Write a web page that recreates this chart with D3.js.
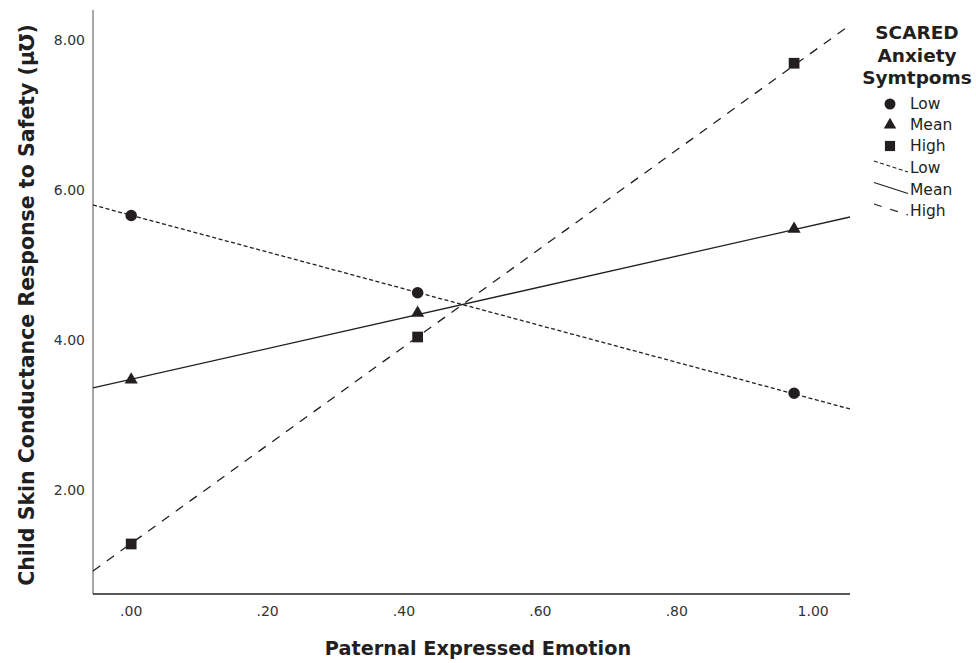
<!DOCTYPE html>
<html>
<head>
  <meta charset="utf-8">
  <title>Child Skin Conductance Response to Safety</title>
  <script src="https://cdn.jsdelivr.net/npm/d3@7"></script>
  <style>
    body { margin: 0; background: #fff; }
    .tick-label { font-family: "DejaVu Sans", sans-serif; font-size: 14px; fill: #333; }
    .axis-title { font-family: "DejaVu Sans", sans-serif; font-weight: bold; font-size: 19.3px; fill: #231f20; }
    .y-title { font-size: 20.5px; }
    .legend-title { font-family: "DejaVu Sans", sans-serif; font-weight: bold; font-size: 18.5px; fill: #231f20; }
    .legend-text { font-family: "DejaVu Sans", sans-serif; font-size: 15.5px; fill: #231f20; }
  </style>
</head>
<body>
<script>
  // point positions on the x axis
  var xPoints = [0.00, 0.42, 0.972];

  // marker values per group
  var lowVals  = [5.66, 4.63, 3.29];
  var meanVals = [3.47, 4.36, 5.48];
  var highVals = [1.28, 4.04, 7.69];

  // fit lines, read at both ends of the x axis
  var lineX    = [-0.056, 1.054];
  var lowLine  = [5.80, 3.08];
  var meanLine = [3.36, 5.64];
  var highLine = [0.92, 8.20];

  var xTicks = [0, 0.2, 0.4, 0.6, 0.8, 1.0];
  var yTicks = [2, 4, 6, 8];

  var groups = ["Low", "Mean", "High"];

  var width = 976, height = 663;
  var plot = {left: 93, right: 850, top: 10, bottom: 594};

  var svg = d3.select("body").append("svg")
      .attr("width", width)
      .attr("height", height);

  var x = d3.scaleLinear().domain([-0.056, 1.054]).range([plot.left, plot.right]);
  var y = d3.scaleLinear().domain([0.613, 8.4]).range([plot.bottom, plot.top]);

  var fmt = function(d) { return d3.format(".2f")(d).replace(/^0/, ""); };
  var ink = "#231f20";

  // axes lines
  svg.append("line")
      .attr("x1", plot.left).attr("x2", plot.left)
      .attr("y1", plot.top).attr("y2", plot.bottom)
      .attr("stroke", "#8a8a8a").attr("stroke-width", 1.5);
  svg.append("line")
      .attr("x1", plot.left).attr("x2", plot.right)
      .attr("y1", plot.bottom).attr("y2", plot.bottom)
      .attr("stroke", ink).attr("stroke-width", 1.5);

  // tick labels
  svg.selectAll(".xt").data(xTicks).enter().append("text")
      .attr("class", "tick-label")
      .attr("x", function(d) { return x(d); })
      .attr("y", 616)
      .attr("text-anchor", "middle")
      .text(fmt);

  svg.selectAll(".yt").data(yTicks).enter().append("text")
      .attr("class", "tick-label")
      .attr("x", 85)
      .attr("y", function(d) { return y(d); })
      .attr("dy", "0.35em")
      .attr("text-anchor", "end")
      .text(fmt);

  // axis titles
  svg.append("text")
      .attr("class", "axis-title")
      .attr("x", 478).attr("y", 655)
      .attr("text-anchor", "middle")
      .text("Paternal Expressed Emotion");

  svg.append("text")
      .attr("class", "axis-title y-title")
      .attr("transform", "translate(34,305) rotate(-90)")
      .attr("text-anchor", "middle")
      .text("Child Skin Conductance Response to Safety (\u03bc\u2127)");

  // fit lines
  var dashes = {Low: "4,2.5", Mean: null, High: "9,8"};
  var lines = {Low: lowLine, Mean: meanLine, High: highLine};
  var lineGen = d3.line()
      .x(function(d, i) { return x(lineX[i]); })
      .y(function(d) { return y(d); });

  groups.forEach(function(g) {
    svg.append("path")
        .datum(lines[g])
        .attr("d", lineGen)
        .attr("fill", "none")
        .attr("stroke", ink)
        .attr("stroke-width", 1.3)
        .attr("stroke-dasharray", dashes[g]);
  });

  // markers
  var shapes = {Low: d3.symbolCircle, Mean: d3.symbolTriangle, High: d3.symbolSquare};
  var sizes = {Low: 105, Mean: 75, High: 115};
  var vals = {Low: lowVals, Mean: meanVals, High: highVals};

  groups.forEach(function(g) {
    svg.selectAll(".m" + g).data(vals[g]).enter().append("path")
        .attr("d", d3.symbol().type(shapes[g]).size(sizes[g]))
        .attr("transform", function(d, i) {
          return "translate(" + x(xPoints[i]) + "," + y(d) + ")";
        })
        .attr("fill", ink);
  });

  // legend title, one text with three lines
  var legTitle = ["SCARED", "Anxiety", "Symtpoms"];
  svg.append("text")
      .attr("class", "legend-title")
      .attr("text-anchor", "middle")
      .selectAll("tspan").data(legTitle).enter().append("tspan")
      .attr("x", 917)
      .attr("y", function(d, i) { return 39 + i * 22.5; })
      .text(function(d) { return d; });

  groups.forEach(function(g, i) {
    var yy = 104 + i * 21;
    svg.append("path")
        .attr("d", d3.symbol().type(shapes[g]).size(sizes[g] * 0.9))
        .attr("transform", "translate(890," + yy + ")")
        .attr("fill", ink);
    svg.append("text")
        .attr("class", "legend-text")
        .attr("x", 910).attr("y", yy)
        .attr("dy", "0.35em")
        .text(g);
  });

  groups.forEach(function(g, i) {
    var yy = 167 + i * 21.5;
    svg.append("line")
        .attr("x1", 874).attr("y1", yy - 6)
        .attr("x2", 908).attr("y2", yy + 5)
        .attr("stroke", ink)
        .attr("stroke-width", 1.2)
        .attr("stroke-dasharray", g === "High" ? "8,9" : dashes[g]);
    svg.append("text")
        .attr("class", "legend-text")
        .attr("x", 910).attr("y", yy + 1)
        .attr("dy", "0.35em")
        .text(g);
  });
</script>
</body>
</html>
